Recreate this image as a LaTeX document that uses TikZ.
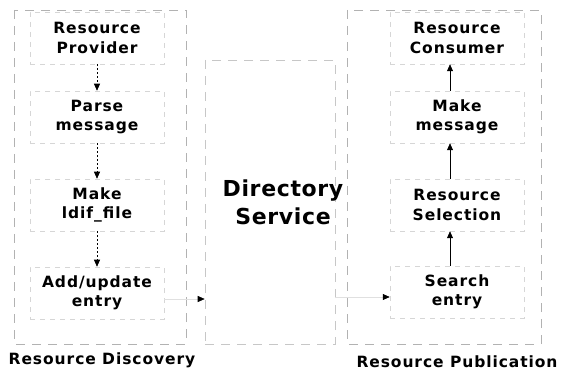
\documentclass[tikz,border=0pt]{standalone}
\usepackage{fontspec}
\setmainfont{DejaVu Sans}
\newfontfamily\stepfont{DejaVu Sans}[LetterSpace=6]
\newfontfamily\titlefont{DejaVu Sans}[LetterSpace=3]
\usetikzlibrary{arrows.meta}
\tikzset{
  label font/.style={font=\stepfont\bfseries\fontsize{15.5}{19.5}\selectfont, align=center},
  stepbox/.style={label font, rectangle, inner sep=0pt,
    minimum width=134pt, minimum height=52pt,
    draw=black!16, dash pattern=on 5pt off 5pt, line width=0.5pt},
  panel/.style={draw=black!30, dash pattern=on 9pt off 7pt, line width=0.6pt},
  dirbox/.style={rectangle, inner sep=0pt, minimum width=130pt, minimum height=284pt,
    draw=black!22, dash pattern=on 9pt off 7pt, line width=0.6pt},
  flow/.style={-{Triangle[length=7pt,width=6pt]}, line width=0.6pt},
  faintflow/.style={flow, draw=black!12, -{Triangle[length=7pt,width=6pt,fill=black,color=black]}},
}
\begin{document}
\begin{tikzpicture}[x=1pt, y=-1pt]
  \useasboundingbox (0,0) rectangle (562,371);

  % the two side panels
  \draw[panel] (14,10) rectangle (186,344);
  \draw[panel] (347,10) rectangle (541,344);

  % discovery steps
  \node[stepbox] (prov)  at (97,38)  {Resource\\Provider};
  \node[stepbox] (parse) at (97,117) {Parse\\message};
  \node[stepbox] (ldif)  at (97,205) {Make\\ldif\_file};
  \node[stepbox] (add)   at (97,293) {Add/update\\entry};

  % publication steps
  \node[stepbox] (cons)  at (457,38)  {Resource\\Consumer};
  \node[stepbox] (mkmsg) at (457,117) {Make\\message};
  \node[stepbox] (sel)   at (457,205) {Resource\\Selection};
  \node[stepbox] (srch)  at (457,292) {Search\\entry};

  % directory service in the middle
  \node[dirbox] (dirbox) at (270,202) {};
  \node[font=\titlefont\bfseries\fontsize{22}{28}\selectfont, align=center] (dir) at (283,202) {Directory\\Service};

  % panel captions
  \node[label font] (capd) at (102,360) {Resource Discovery};
  \node[label font] (capp) at (457,362) {Resource Publication};

  % flows
  \draw[flow, dash pattern=on 2pt off 2pt] (prov) -- (parse);
  \draw[flow, dash pattern=on 2pt off 2pt] (parse) -- (ldif);
  \draw[flow, dash pattern=on 2pt off 2pt] (ldif) -- (add);
  \draw[flow] ([xshift=-7pt]mkmsg.north) -- ([xshift=-7pt]cons.south);
  \draw[flow] ([xshift=-7pt]sel.north) -- ([xshift=-7pt]mkmsg.south);
  \draw[flow] ([xshift=-7pt]srch.north) -- ([xshift=-7pt]sel.south);
  \draw[faintflow] ([yshift=-6pt]add.east) -- ([yshift=-6pt]add.east -| dirbox.west);
  \draw[faintflow] ([yshift=-5pt]srch.west -| dirbox.east) -- ([yshift=-5pt]srch.west);
\end{tikzpicture}
\end{document}
